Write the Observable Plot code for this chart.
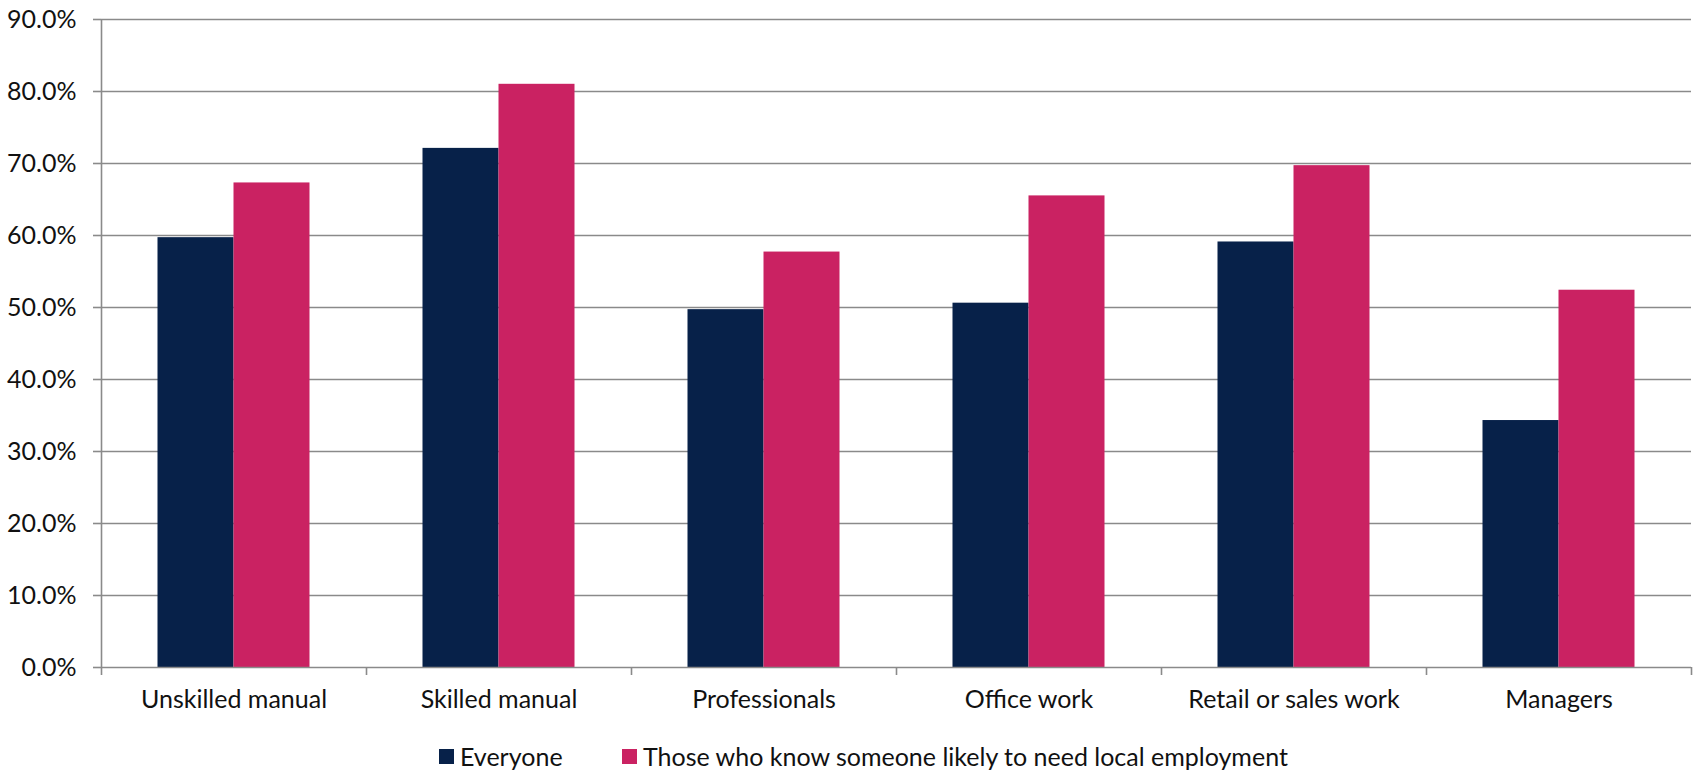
<!DOCTYPE html>
<html>
<head>
<meta charset="utf-8">
<script src="https://cdn.jsdelivr.net/npm/d3@7"></script>
<script src="https://cdn.jsdelivr.net/npm/@observablehq/plot@0.6"></script>
<style>
  html, body { margin: 0; padding: 0; background: #fff; }
  body { width: 1696px; height: 772px; overflow: hidden; font-family: Lato, "Open Sans", sans-serif; }
  #legend { position: relative; height: 32px; font-size: 25px; color: #111; }
  .item { position: absolute; top: 0; height: 32px; display: flex; align-items: center; }
  .sw { width: 15px; height: 15px; margin-right: 6px; display: inline-block; }
</style>
</head>
<body>
<div id="chart"></div>
<div id="legend"></div>
<script>
const categories = ["Unskilled manual", "Skilled manual", "Professionals", "Office work", "Retail or sales work", "Managers"];
const seriesNames = ["Everyone", "Those who know someone likely to need local employment"];
const everyone = [59.7, 72.1, 49.7, 50.6, 59.1, 34.3];
const knowSomeone = [67.3, 81.0, 57.7, 65.5, 69.7, 52.4];
const yTicks = [0, 10, 20, 30, 40, 50, 60, 70, 80, 90];
const colors = ["#072149", "#CA2262"];

const W = 1696, H = 740;
const mL = 101, mR = 5, mT = 19, mB = 73;
const bw = (W - mL - mR) / categories.length;
const barW = 76;

const data1 = categories.map((c, i) => ({category: c, value: everyone[i]}));
const data2 = categories.map((c, i) => ({category: c, value: knowSomeone[i]}));

const gray = "#8a8a8a";

const chart = Plot.plot({
  width: W, height: H,
  marginLeft: mL, marginRight: mR, marginTop: mT, marginBottom: mB,
  style: {fontFamily: "Lato, 'Open Sans', sans-serif", fontSize: "25px", color: "#111", background: "#fff"},
  x: {type: "band", domain: categories, padding: 0, label: null},
  y: {domain: [0, 90], ticks: yTicks, label: null},
  marks: [
    Plot.gridY(yTicks.filter(d => d > 0), {stroke: gray, strokeOpacity: 1, strokeWidth: 1.6}),
    Plot.barY(data1, {x: "category", y: "value", fill: colors[0], insetLeft: bw / 2 - barW, insetRight: bw / 2}),
    Plot.barY(data2, {x: "category", y: "value", fill: colors[1], insetLeft: bw / 2, insetRight: bw / 2 - barW}),
    Plot.ruleY([0], {stroke: gray, strokeWidth: 1.6}),
    Plot.ruleX([categories[0]], {y1: 0, y2: 90, dx: -bw / 2, stroke: gray, strokeWidth: 1.6}),
    Plot.axisY({ticks: yTicks, tickSize: 8, tickPadding: 17, stroke: gray, strokeWidth: 1.6,
      tickFormat: d => d.toFixed(1) + "%", fontSize: 25, fill: "#111"}),
    Plot.axisX({tickSize: 8, tickFormat: () => "", dx: -bw / 2, stroke: gray, strokeWidth: 1.6}),
    Plot.axisX({ticks: [categories[categories.length - 1]], tickSize: 8, tickFormat: () => "", dx: bw / 2, stroke: gray, strokeWidth: 1.6}),
    Plot.axisX({tickSize: 0, tickPadding: 23, fontSize: 25, fill: "#111"})
  ]
});
document.getElementById("chart").appendChild(chart);

const legend = document.getElementById("legend");
const lefts = [439, 622];
seriesNames.forEach((name, i) => {
  const it = document.createElement("div");
  it.className = "item";
  it.style.left = lefts[i] + "px";
  const sw = document.createElement("span");
  sw.className = "sw";
  sw.style.background = colors[i];
  it.appendChild(sw);
  it.appendChild(document.createTextNode(name));
  legend.appendChild(it);
});
</script>
</body>
</html>
